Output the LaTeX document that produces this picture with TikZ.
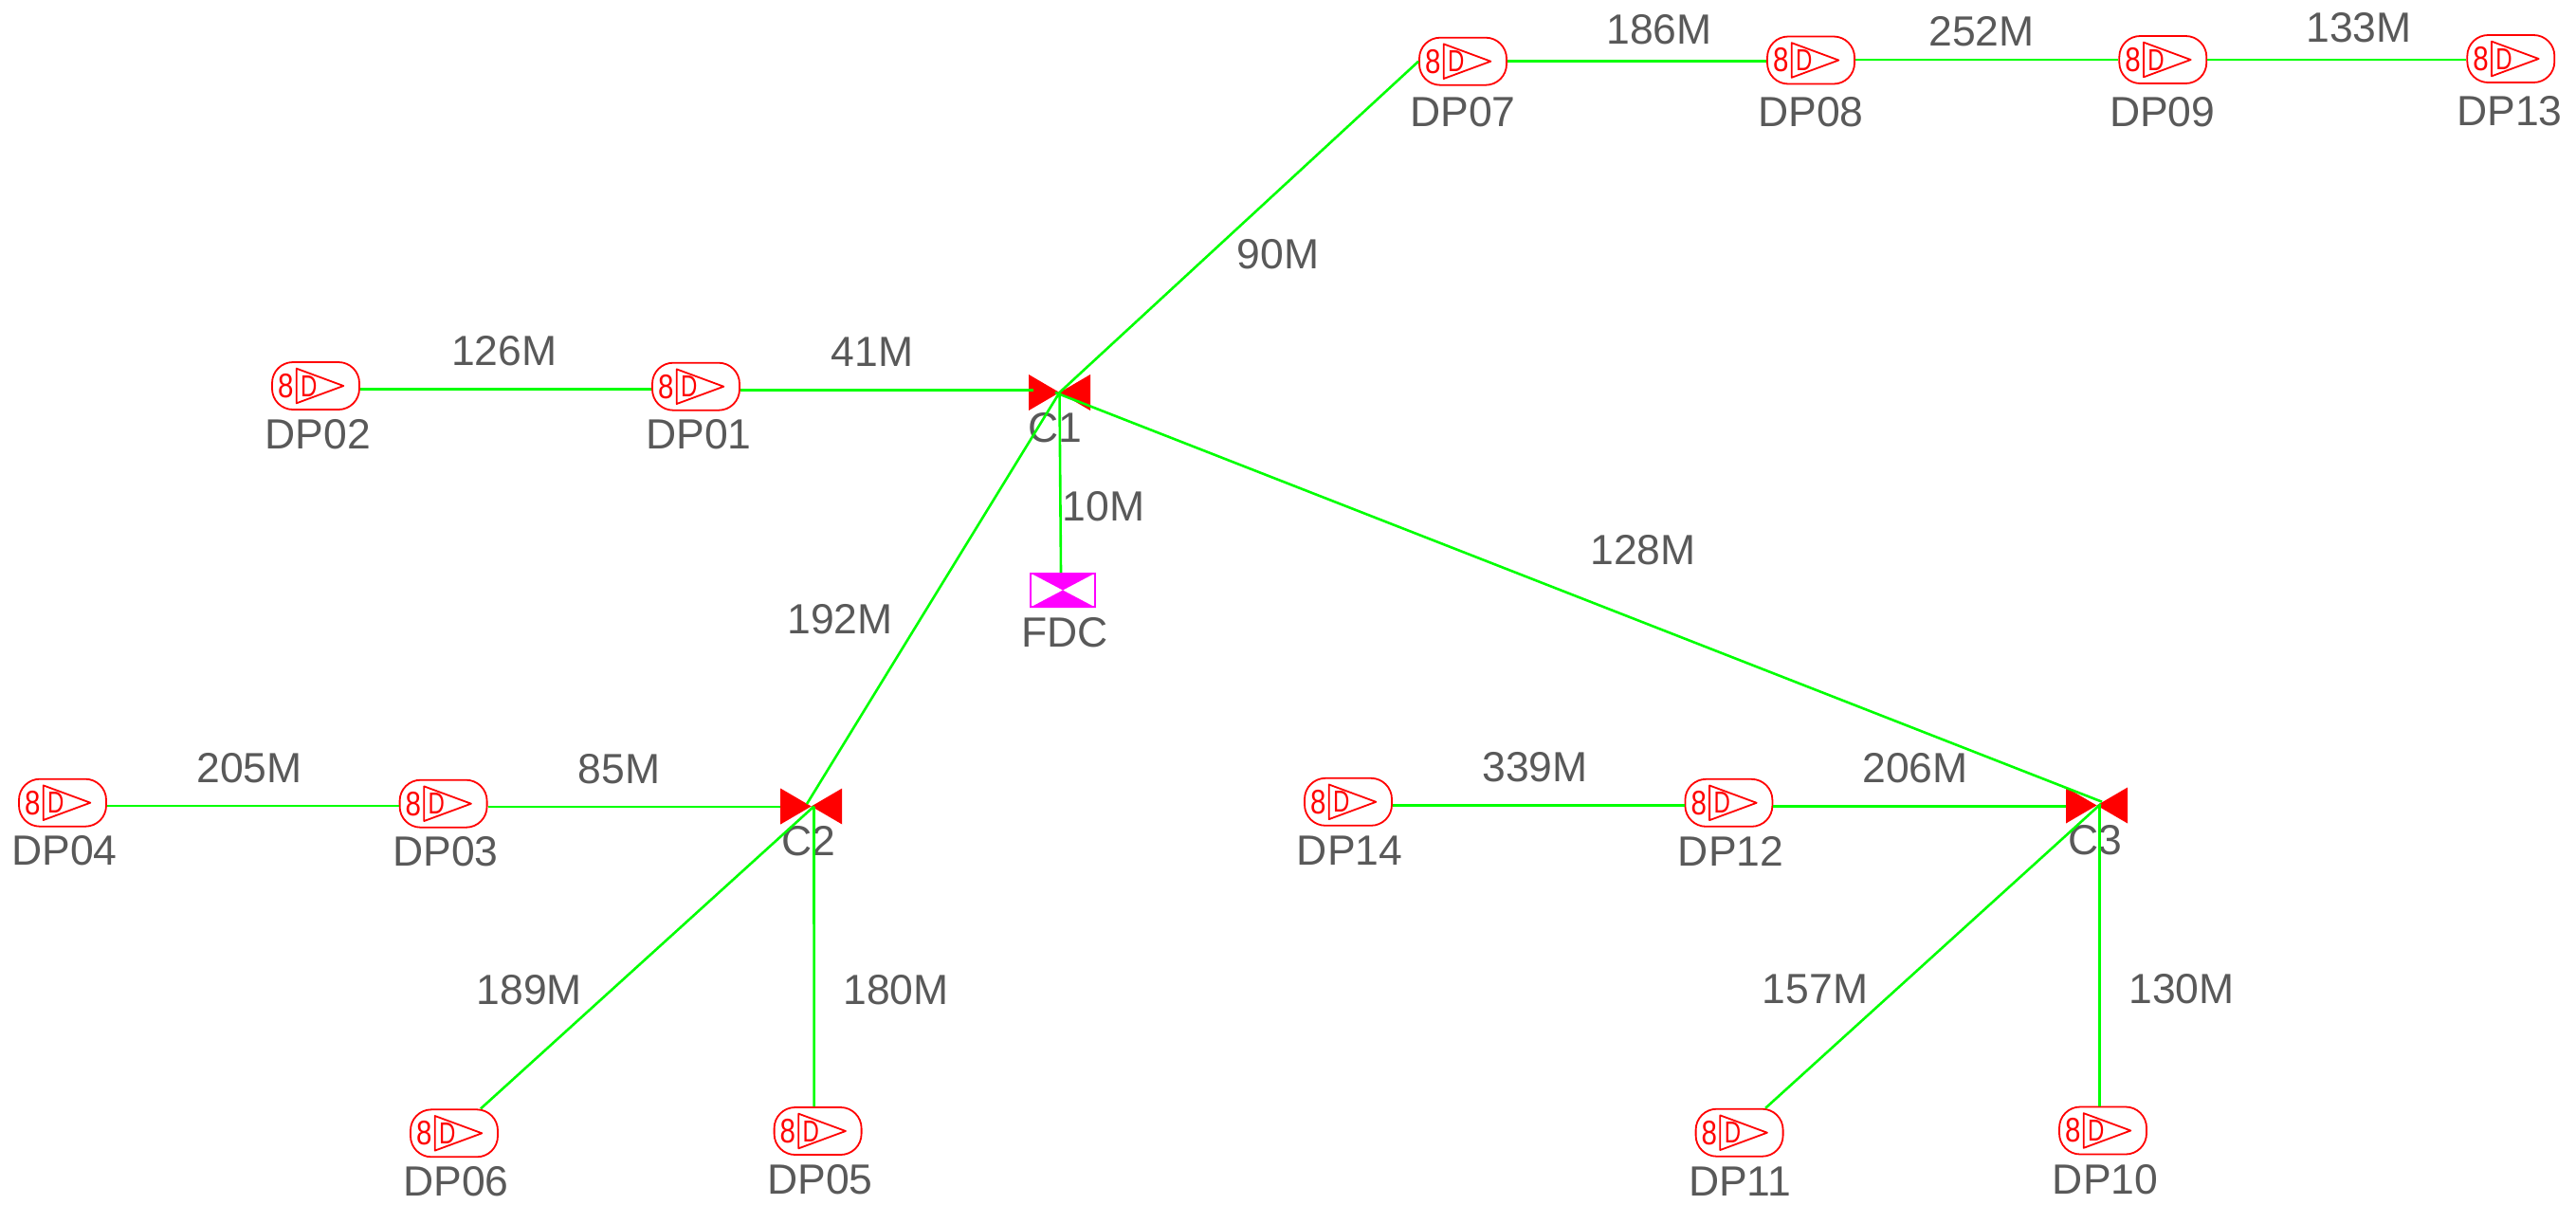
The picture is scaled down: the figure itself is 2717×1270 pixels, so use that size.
\documentclass[tikz,border=0pt]{standalone}
\usepackage{fontspec}
\setmainfont{Liberation Sans}
\definecolor{wire}{RGB}{0,255,0}
\definecolor{txt}{RGB}{89,89,89}
\definecolor{devred}{RGB}{255,0,0}
\definecolor{fdcpink}{RGB}{255,0,255}
\tikzset{
  wirel/.style={draw=wire,line width=2.6pt},
  lab/.style={text=txt,inner sep=0pt,font=\fontsize{44.5}{44.5}\selectfont},
  dpbox/.style={draw=devred,line width=1.8pt,rounded corners=22pt,minimum width=92pt,minimum height=50pt,inner sep=0pt,fill=white},
  tri/.style={draw=devred,line width=1.8pt,line join=round},
  symeight/.style={text=devred,inner sep=0pt,font=\fontsize{36}{36}\selectfont},
  symdee/.style={text=devred,inner sep=0pt,font=\fontsize{32}{32}\selectfont},
  valve/.style={minimum width=65pt,minimum height=38pt,inner sep=0pt},
  fdcbox/.style={draw=fdcpink,line width=2pt,minimum width=68pt,minimum height=35pt,inner sep=0pt},
}
% name, x, y, label, label x, label y
\newcommand{\dpsym}[6]{%
  \node[dpbox] (#1) at (#2,#3) {};
  \draw[tri] (#2-20.3,#3-18.3) -- (#2-20.3,#3+18.3) -- (#2+29.3,#3) -- cycle;
  \node[symeight] (#1e) at (#2-31.7,#3) {\scalebox{.82}[1]{8}};
  \node[symdee] (#1d) at (#2-7.2,#3) {\scalebox{.75}[1]{D}};
  \node[lab] (#1l) at (#5,#6) {#4};
}
\newcommand{\valvesym}[6]{%
  \node[valve] (#1) at (#2,#3) {};
  \fill[devred] (#2-32.5,#3-19) -- (#2-32.5,#3+19) -- (#2,#3) -- cycle;
  \fill[devred] (#2+32.5,#3-19) -- (#2+32.5,#3+19) -- (#2,#3) -- cycle;
  \node[lab] (#1l) at (#5,#6) {#4};
}
\begin{document}
\begin{tikzpicture}[x=1pt,y=-1pt]
\useasboundingbox (0,0) rectangle (2717,1270);
\dpsym{dp07}{1543}{64.7}{DP07}{1543}{118.5}
\dpsym{dp08}{1910}{63.5}{DP08}{1910}{118}
\dpsym{dp09}{2281.3}{63}{DP09}{2280.7}{118}
\dpsym{dp13}{2648.3}{62}{DP13}{2647}{117}
\dpsym{dp02}{333}{407}{DP02}{335.5}{458}
\dpsym{dp01}{734}{407.7}{DP01}{737}{458.5}
\dpsym{dp04}{66}{846.7}{DP04}{68}{897.5}
\dpsym{dp03}{467.6}{847.7}{DP03}{470}{898.5}
\dpsym{dp06}{479}{1195.3}{DP06}{481}{1246}
\dpsym{dp05}{862.6}{1193}{DP05}{865}{1244}
\dpsym{dp14}{1422}{845.8}{DP14}{1423.6}{897}
\dpsym{dp12}{1823.4}{846.8}{DP12}{1825.6}{898}
\dpsym{dp11}{1834.6}{1194.7}{DP11}{1835}{1246}
\dpsym{dp10}{2218}{1192.5}{DP10}{2220.6}{1244}
\valvesym{c1}{1117.5}{414}{C1}{1113}{451.5}
\valvesym{c2}{855.7}{850.5}{C2}{853}{887}
\valvesym{c3}{2211.5}{849.5}{C3}{2209.6}{886}
% FDC
\node[fdcbox] (fdc) at (1121,622.5) {};
\fill[fdcpink] (fdc.north west) -- (fdc.north east) -- (fdc.south west) -- (fdc.south east) -- cycle;
\node[lab] (fdcl) at (1123,667) {FDC};
% connectors
\draw[wirel] ([yshift=.4pt]dp07.east) -- ([yshift=-.8pt]dp08.west);
\draw[wirel] ([yshift=.5pt]dp08.east) -- (dp09.west);
\draw[wirel] (dp09.east) -- ([yshift=-1pt]dp13.west);
\draw[wirel] ([yshift=-3.3pt]dp02.east) -- ([yshift=-2.6pt]dp01.west);
\draw[wirel] ([yshift=-4pt]dp01.east) -- ([xshift=5pt,yshift=2.3pt]c1.west);
\draw[wirel] (c1.center) -- (dp07.west);
\draw[wirel] (c1.center) -- ([xshift=-2pt]fdc.north);
\draw[wirel] (c1.center) -- ([xshift=-4.7pt,yshift=2.5pt]c2.center);
\draw[wirel] ([xshift=-4.5pt]c1.center) -- ([xshift=5.5pt,yshift=3.8pt]c3.center);
\draw[wirel] ([yshift=-3.3pt]dp04.east) -- ([yshift=-2.3pt]dp03.west);
\draw[wirel] ([yshift=-3.3pt]dp03.east) -- ([yshift=-.5pt]c2.west);
\draw[wirel] ([xshift=2.8pt]c2.center) -- ([xshift=28pt]dp06.north);
\draw[wirel] ([xshift=2.8pt]c2.center) -- ([xshift=-4pt]dp05.north);
\draw[wirel] ([yshift=-3.5pt]dp14.east) -- ([yshift=-2.5pt]dp12.west);
\draw[wirel] ([yshift=-3.9pt]dp12.east) -- ([yshift=-1.2pt]c3.west);
\draw[wirel] ([xshift=4.2pt,yshift=1.5pt]c3.center) -- ([xshift=27.5pt]dp11.north);
\draw[wirel] ([xshift=2.9pt]c3.center) -- ([xshift=-3.6pt]dp10.north);
% edge labels
\node[lab] (e1) at (1750,31) {186M};
\node[lab] (e2) at (2090,33.5) {252M};
\node[lab] (e3) at (2488,29) {133M};
\node[lab] (e4) at (1348,268) {90M};
\node[lab] (e5) at (531.7,370) {126M};
\node[lab] (e6) at (920,371) {41M};
\node[lab] (e7) at (1164,534) {10M};
\node[lab] (e8) at (1733,580) {128M};
\node[lab] (e9) at (886,653) {192M};
\node[lab] (e10) at (263,810) {205M};
\node[lab] (e11) at (653,811) {85M};
\node[lab] (e12) at (1619,809) {339M};
\node[lab] (e13) at (2020,810) {206M};
\node[lab] (e14) at (558.4,1044.5) {189M};
\node[lab] (e15) at (945,1044.5) {180M};
\node[lab] (e16) at (1914.5,1043) {157M};
\node[lab] (e17) at (2301,1043) {130M};
\end{tikzpicture}
\end{document}
